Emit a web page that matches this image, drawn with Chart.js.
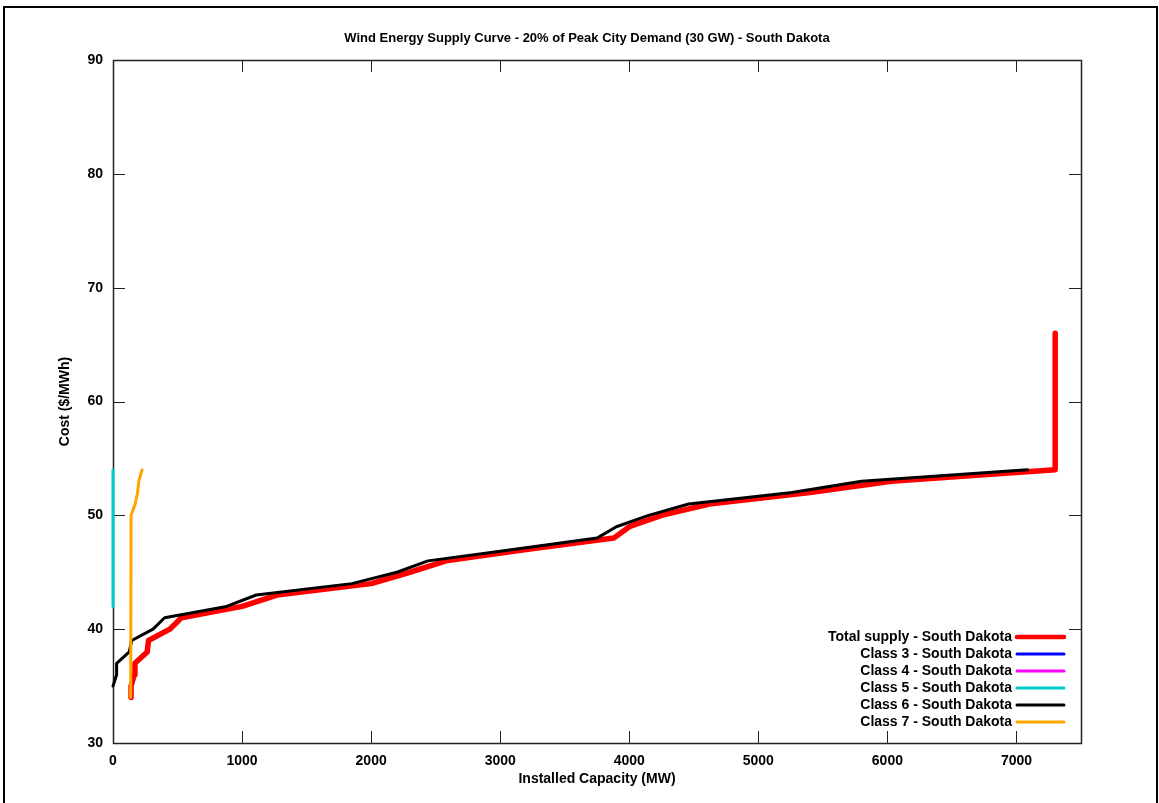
<!DOCTYPE html>
<html><head><meta charset="utf-8">
<script src="https://cdn.jsdelivr.net/npm/chart.js@4.4.1/dist/chart.umd.min.js"></script>
<style>html,body{margin:0;padding:0;background:#fff;overflow:hidden}#wrap{width:1159px;height:803px;position:relative}</style>
</head><body><div id="wrap"><canvas id="c" width="1159" height="803"></canvas></div>
<script>
// ---- data ----
const chartTitle = "Wind Energy Supply Curve - 20% of Peak City Demand (30 GW) - South Dakota";
const xAxisTitle = "Installed Capacity (MW)";
const yAxisTitle = "Cost ($/MWh)";
const seriesLabels = ["Total supply - South Dakota","Class 3 - South Dakota","Class 4 - South Dakota","Class 5 - South Dakota","Class 6 - South Dakota","Class 7 - South Dakota"];
const seriesColors = ["#ff0000","#0000ff","#ff00ff","#00cccc","#000000","#ffa500"];

const totalCap  = [140,140,165,170,265,275,440,530,1000,1270,2000,2300,2580,3200,3880,4000,4250,4620,5400,6030,7300,7300];
const totalCost = [34,35,36,37,38,39,40,41,42,43,44,45,46,47,48,49,50,51,52,53,54,66];
const class3Cap = [];
const class3Cost = [];
const class4Cap = [];
const class4Cost = [];
const class5Cap = [0,0];
const class5Cost = [42,54];
const class6Cap  = [0,28,28,126,145,310,400,880,1110,1850,2200,2440,3100,3750,3900,4150,4460,5260,5800,7085];
const class6Cost = [35,36,37,38,39,40,41,42,43,44,45,46,47,48,49,50,51,52,53,54];
const class7Cap  = [137,140,172,190,200,225];
const class7Cost = [34,50,51,52,53,54];

const xTicks = [0,1000,2000,3000,4000,5000,6000,7000];
const yTicks = [30,40,50,60,70,80,90];
const xMin = 0, xMax = 7500;
const yMin = 30, yMax = 90;

// ---- build ----
const caps = [totalCap,class3Cap,class4Cap,class5Cap,class6Cap,class7Cap];
const costs = [totalCost,class3Cost,class4Cost,class5Cost,class6Cost,class7Cost];
const widths = [5.5,3,3,3,3,3];
const datasets = seriesLabels.map((lab,i)=>({
  label: lab,
  data: caps[i].map((x,j)=>({x:x,y:costs[i][j]})),
  borderColor: seriesColors[i],
  backgroundColor: seriesColors[i],
  borderWidth: widths[i],
  showLine: true,
  pointRadius: 0,
  pointHoverRadius: 0,
  tension: 0,
  clip: false,
  borderCapStyle: 'round',
  borderJoinStyle: 'round',
  order: 6 - i
}));

const FONT = "'Liberation Sans', Arial, Helvetica, sans-serif";
Chart.defaults.font.family = FONT;
Chart.defaults.font.size = 14;
Chart.defaults.font.weight = 'bold';
Chart.defaults.color = '#000';

const framePlugin = {
  id: 'frame',
  beforeDraw(chart){
    const ctx = chart.ctx;
    ctx.save();
    ctx.fillStyle = '#fff';
    ctx.fillRect(0,0,chart.width,chart.height);
    ctx.strokeStyle = '#000';
    ctx.lineWidth = 2;
    ctx.strokeRect(4,7,1153,820);
    ctx.fillStyle = '#000';
    ctx.font = "bold 13px " + FONT;
    ctx.textAlign = 'center';
    ctx.textBaseline = 'middle';
    ctx.fillText(chartTitle, 587, 38);
    ctx.restore();
  },
  beforeDatasetsDraw(chart){
    const {ctx, chartArea:a, scales} = chart;
    ctx.save();
    ctx.strokeStyle = '#222';
    ctx.lineWidth = 1;
    ctx.beginPath();
    const tl = 12;
    scales.x.ticks.forEach(t=>{
      const px = Math.round(scales.x.getPixelForValue(t.value))+0.5;
      ctx.moveTo(px,a.bottom); ctx.lineTo(px,a.bottom-tl);
      ctx.moveTo(px,a.top); ctx.lineTo(px,a.top+tl);
    });
    scales.y.ticks.forEach(t=>{
      const py = Math.round(scales.y.getPixelForValue(t.value))+0.5;
      ctx.moveTo(a.left,py); ctx.lineTo(a.left+tl,py);
      ctx.moveTo(a.right,py); ctx.lineTo(a.right-tl,py);
    });
    ctx.stroke();
    ctx.lineWidth = 1.5;
    ctx.strokeRect(Math.round(a.left)+0.5, Math.round(a.top)+0.5, Math.round(a.right-a.left), Math.round(a.bottom-a.top));
    ctx.restore();
  },
  afterDatasetsDraw(chart){
    const ctx = chart.ctx;
    ctx.save();
    ctx.font = "bold 14px " + FONT;
    ctx.textAlign = 'right';
    ctx.textBaseline = 'middle';
    chart.data.datasets.forEach((ds,i)=>{
      const y = 637 + i*17;
      ctx.fillStyle = '#000';
      ctx.fillText(ds.label, 1012, y);
      ctx.strokeStyle = ds.borderColor;
      ctx.lineWidth = i===0 ? 4.5 : 3;
      ctx.lineCap = 'round';
      ctx.beginPath();
      ctx.moveTo(1017,y); ctx.lineTo(1064,y);
      ctx.stroke();
    });
    ctx.restore();
  }
};

new Chart(document.getElementById('c'), {
  type: 'scatter',
  data: { datasets },
  options: {
    responsive: false,
    animation: false,
    devicePixelRatio: 1,
    layout: { padding: { top: 60, right: 78, bottom: 0, left: 0 } },
    plugins: { legend: { display: false }, title: { display: false }, tooltip: { enabled: false } },
    scales: {
      x: {
        type: 'linear', min: xMin, max: xMax,
        grid: { display: false, drawTicks: false },
        border: { display: false },
        afterBuildTicks(s){ s.ticks = xTicks.map(v=>({value:v})); },
        ticks: { padding: 10, maxRotation: 0, autoSkip: false, color: '#000', font: { size: 14, weight: 'bold' }, callback: v => String(v) },
        title: { display: true, text: xAxisTitle, color: '#000', font: { size: 14, weight: 'bold' }, padding: { top: 0, bottom: 15 } },
        afterFit(s){ s.height = 60; }
      },
      y: {
        type: 'linear', min: yMin, max: yMax,
        grid: { display: false, drawTicks: false },
        border: { display: false },
        afterBuildTicks(s){ s.ticks = yTicks.map(v=>({value:v})); },
        ticks: { padding: 10, autoSkip: false, color: '#000', font: { size: 14, weight: 'bold' }, callback: v => String(v) },
        title: { display: true, text: yAxisTitle, color: '#000', font: { size: 14, weight: 'bold' }, padding: { top: 57, bottom: 0 } },
        afterFit(s){ s.width = 113; }
      }
    }
  },
  plugins: [framePlugin]
});
</script></body></html>
